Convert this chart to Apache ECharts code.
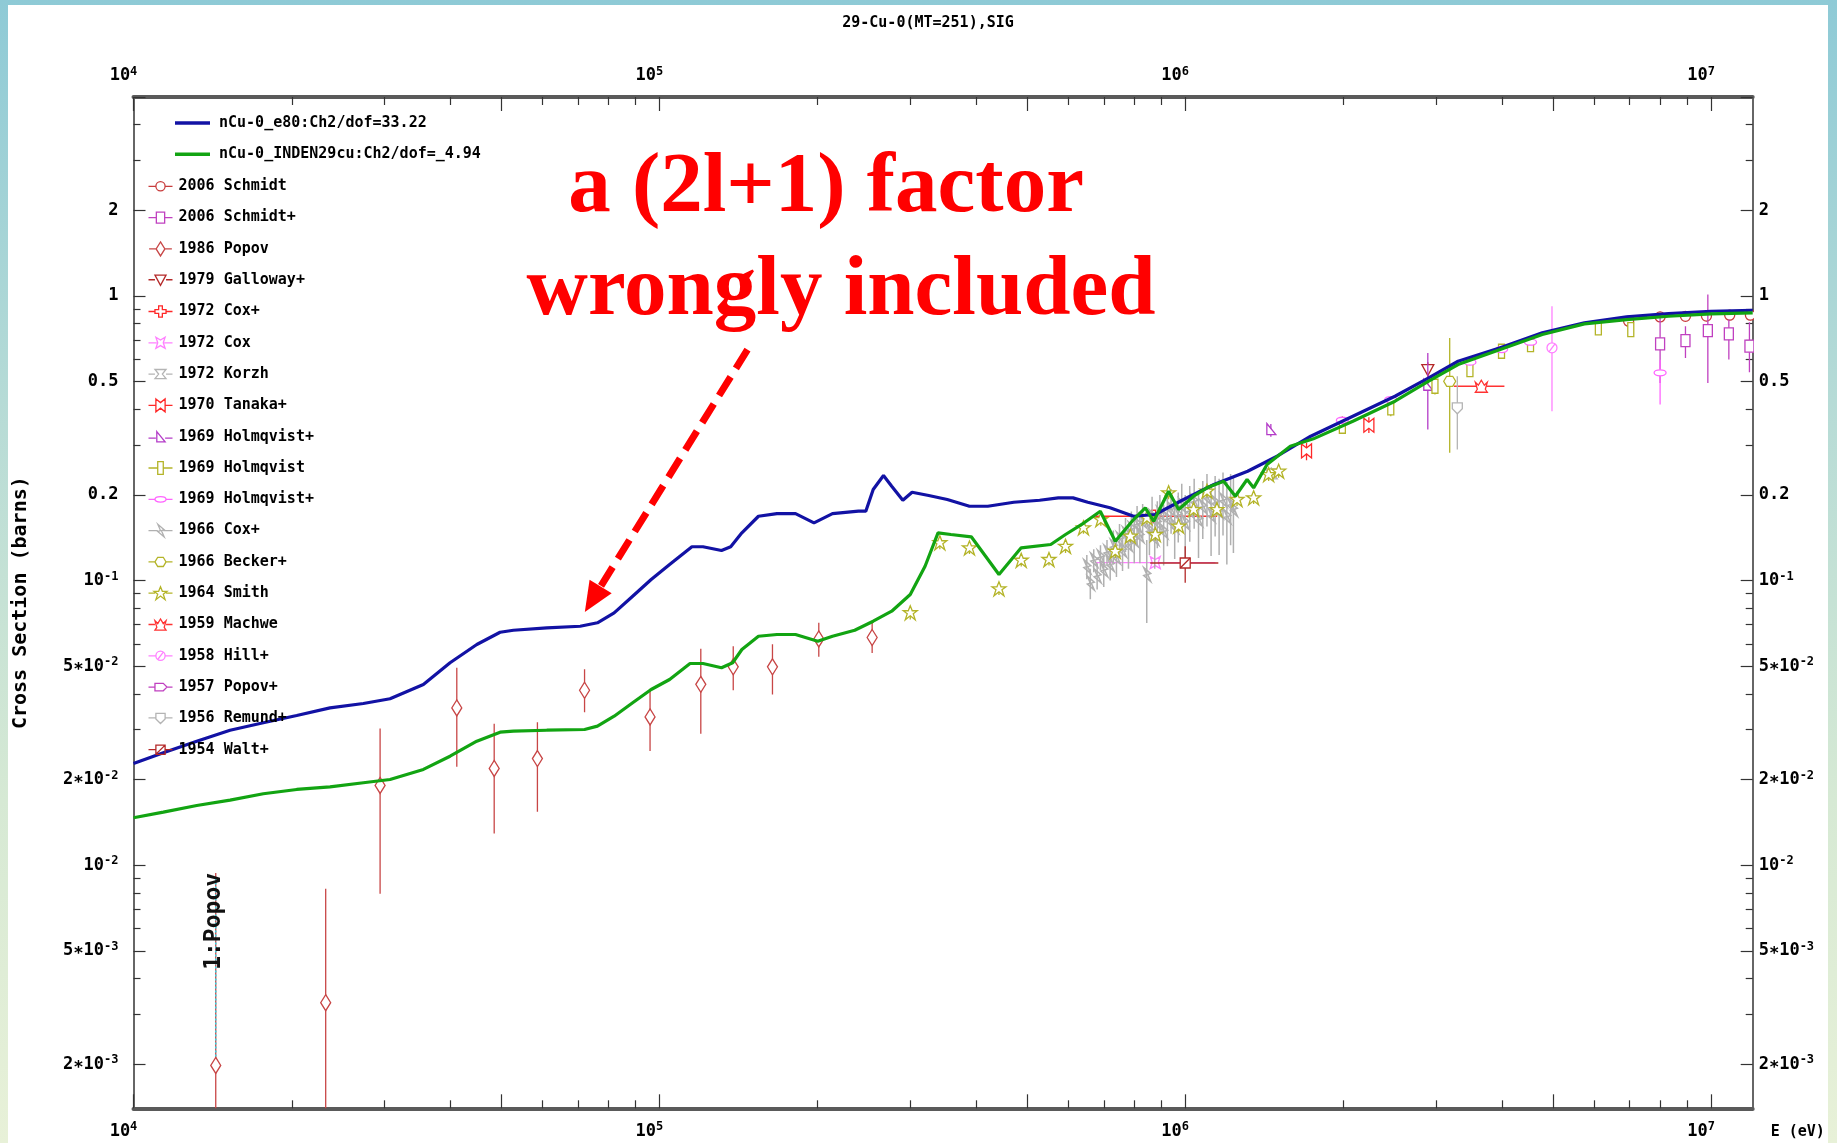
<!DOCTYPE html>
<html>
<head>
<meta charset="utf-8">
<script src="https://cdn.jsdelivr.net/npm/echarts@6/dist/echarts.min.js"></script>
<style>
html,body{margin:0;padding:0;}
#frame{position:absolute;left:0;top:0;width:1837px;height:1143px;background:linear-gradient(#8ecad6 0%,#b6dbd6 35%,#d6e9d4 70%,#e8f1d8 100%);}
#inner{position:absolute;left:8px;top:5px;width:1820px;height:1138px;background:#fff;}
#c{position:absolute;left:0;top:0;width:1837px;height:1143px;}
</style>
</head>
<body>
<div id="frame"></div><div id="inner"></div><div id="c"></div>
<script>
// ---------------- data ----------------
const titleText = '29-Cu-0(MT=251),SIG';
const xName = 'E (eV)';
const yName = 'Cross Section (barns)';

const xLabelValues = [1e4, 1e5, 1e6, 1e7];
const xTickLabels = ['10^4', '10^5', '10^6', '10^7'];
const xMajorTicks = [1e4, 5e4, 1e5, 5e5, 1e6, 5e6, 1e7];
const xMinorTicks = [2e4,3e4,4e4,6e4,7e4,8e4,9e4,2e5,3e5,4e5,6e5,7e5,8e5,9e5,2e6,3e6,4e6,6e6,7e6,8e6,9e6];

const yLabelValues = [2, 1, 0.5, 0.2, 0.1, 0.05, 0.02, 0.01, 0.005, 0.002];
const yTickLabels = ['2', '1', '0.5', '0.2', '10^-1', '5\u221710^-2', '2\u221710^-2', '10^-2', '5\u221710^-3', '2\u221710^-3'];
const yMajorTicks = [5, 2, 1, 0.5, 0.2, 0.1, 0.05, 0.02, 0.01, 0.005, 0.002];
const yMinorTicks = [4,3,0.9,0.8,0.7,0.6,0.4,0.3,0.09,0.08,0.07,0.06,0.04,0.03,0.009,0.008,0.007,0.006,0.004,0.003];

const curveNames = ['nCu-0_e80:Ch2/dof=33.22', 'nCu-0_INDEN29cu:Ch2/dof=_4.94'];

const e80Energy = [1e4,11395,13192,15262,17655,20437,23643,27359,30749,35582,39994,44962,49792,52784,61094,70700,76250,82040,88970,96480,104590,115330,121050,131280,136680,143530,154330,167340,181520,196820,213430,239100,246950,255070,266840,276600,290400,302400,325300,352800,388800,421300,472100,528700,573600,611800,652800,719400,797700,876200,993200,1.134e6,1.3144e6,1.4953e6,1.7326e6,2.0836e6,2.5059e6,2.904e6,3.303e6,3.972e6,4.776e6,5.743e6,6.907e6,8.305e6,9.99e6,1.2e7];
const e80Sigma = [0.02278,0.02484,0.02728,0.02981,0.03166,0.03358,0.03573,0.0370,0.03844,0.04315,0.05144,0.05963,0.06587,0.06694,0.06825,0.06914,0.07109,0.07703,0.08815,0.1009,0.1139,0.1315,0.1315,0.1276,0.1315,0.1472,0.1683,0.1720,0.1720,0.1596,0.1720,0.1753,0.1753,0.2089,0.2339,0.2146,0.1916,0.2044,0.1990,0.1927,0.1825,0.1825,0.1885,0.1916,0.1953,0.1953,0.1885,0.1802,0.1683,0.1707,0.1927,0.2176,0.2423,0.2735,0.3216,0.3780,0.4443,0.5158,0.5896,0.6572,0.7420,0.8043,0.8444,0.8673,0.8836,0.8907];

const indenEnergy = [1e4,11395,13192,15262,17655,20437,23643,27359,30749,35582,39994,44962,49792,52784,61094,72070,76250,82040,88970,96480,104590,114380,121050,131280,137850,143530,154330,167340,181520,200100,213430,235240,255070,276600,300000,320100,338800,358500,391900,442400,487600,555000,592100,642300,689500,736200,797700,839600,870900,929900,971600,1.0375e6,1.1002e6,1.1832e6,1.2455e6,1.3111e6,1.3494e6,1.4309e6,1.5845e6,1.7526e6,2.0836e6,2.5059e6,2.904e6,3.303e6,3.972e6,4.776e6,5.743e6,6.907e6,8.305e6,9.99e6,1.2e7];
const indenSigma = [0.01468,0.01537,0.01622,0.01693,0.01783,0.01846,0.01886,0.01949,0.02001,0.02171,0.02416,0.02728,0.02934,0.02958,0.02981,0.02999,0.03081,0.03339,0.03722,0.04144,0.04494,0.05114,0.05114,0.04940,0.05144,0.05728,0.06376,0.06465,0.06465,0.06124,0.06376,0.06694,0.07201,0.07807,0.08937,0.1123,0.1472,0.1452,0.1425,0.1051,0.1304,0.1339,0.1452,0.1596,0.1753,0.1375,0.1639,0.1802,0.1616,0.2061,0.1777,0.1979,0.2118,0.2234,0.1979,0.2265,0.2118,0.2557,0.2966,0.3148,0.3630,0.4267,0.5017,0.5741,0.6480,0.7318,0.7980,0.8261,0.8485,0.8651,0.8722];

// rows: [E, sigma, sigmaLow, sigmaHigh, Elow, Ehigh]  (0 = none)
const schmidt2006 = [[6.97e6,0.815,0.785,0.845,0,0],[8.0e6,0.844,0.81,0.88,0,0],[8.94e6,0.848,0.815,0.88,0,0],[9.8e6,0.85,0.815,0.885,0,0],[1.085e7,0.856,0.82,0.89,0,0],[1.188e7,0.856,0.82,0.89,0,0]];
const schmidtPlus2006 = [[8.0e6,0.679,0.495,0.872,0,0],[8.94e6,0.697,0.606,0.783,0,0],[9.86e6,0.756,0.495,1.011,0,0],[1.081e7,0.736,0.598,0.826,0,0],[1.183e7,0.666,0.539,0.808,0,0]];
const popov1986 = [[14335,0.00198,0.0008,0.0094,0,0],[23200,0.00329,0.0008,0.00827,0,0],[29440,0.01907,0.00794,0.0302,0,0],[41190,0.0357,0.0222,0.0494,0,0],[48520,0.02188,0.01294,0.0314,0,0],[58630,0.0237,0.01542,0.0318,0,0],[72070,0.0412,0.0345,0.0488,0,0],[96010,0.0332,0.0252,0.0417,0,0],[119900,0.0432,0.029,0.0576,0,0],[138200,0.0498,0.0412,0.0588,0,0],[164100,0.0498,0.0398,0.0597,0,0],[201000,0.0624,0.054,0.0711,0,0],[253900,0.0631,0.0557,0.0711,0,0]];
const galloway1979 = [[2.893e6,0.551,0.52,0.585,0,0]];
const coxPlus1972 = [[8.71e5,0.1683,0,0,6.745e5,1.15e6]];
const cox1972 = [[8.77e5,0.1157,0,0,6.745e5,1.141e6]];
const korzh1972 = [[1.458e6,0.237,0.225,0.25,0,0]];
const tanaka1970 = [[1.701e6,0.2855,0.265,0.305,0,0],[2.235e6,0.3514,0.33,0.375,0,0]];
const holmqvistPlusA1969 = [[1.455e6,0.3367,0.32,0.355,0,0],[2.893e6,0.4817,0.3395,0.631,0,0]];
const holmqvist1969 = [[1.99e6,0.3486,0.3304,0.378,0,0],[2.46e6,0.4046,0.378,0.4387,0,0],[2.985e6,0.4817,0.4508,0.5225,0,0],[3.479e6,0.551,0.5225,0.5969,0,0],[3.995e6,0.6395,0.61,0.67,0,0],[4.536e6,0.675,0.64,0.71,0,0],[6.105e6,0.773,0.74,0.81,0,0],[7.036e6,0.762,0.72,0.80,0,0]];
const holmqvistPlusB1969 = [[1.99e6,0.3659,0,0,0,0],[2.46e6,0.4326,0,0,0,0],[3.479e6,0.5854,0,0,0,0],[3.995e6,0.648,0,0,0,0],[4.536e6,0.688,0,0,0,0],[8.0e6,0.537,0.4155,0.5969,0,0]];
const coxPlus1966 = [[6.50e5,0.112,0.101,0.123,0,0],[6.60e5,0.098,0.086,0.110,0,0],[6.70e5,0.118,0.107,0.129,0,0],[6.80e5,0.104,0.093,0.115,0,0],[6.90e5,0.121,0.109,0.133,0,0],[7.00e5,0.109,0.095,0.123,0,0],[7.10e5,0.126,0.113,0.139,0,0],[7.20e5,0.114,0.100,0.128,0,0],[7.30e5,0.132,0.114,0.150,0,0],[7.40e5,0.121,0.103,0.139,0,0],[7.50e5,0.140,0.122,0.158,0,0],[7.60e5,0.128,0.108,0.148,0,0],[7.70e5,0.146,0.126,0.166,0,0],[7.80e5,0.134,0.110,0.158,0,0],[7.90e5,0.152,0.129,0.175,0,0],[8.00e5,0.139,0.115,0.163,0,0],[8.10e5,0.158,0.133,0.183,0,0],[8.20e5,0.144,0.115,0.173,0,0],[8.30e5,0.162,0.138,0.186,0,0],[8.45e5,0.105,0.071,0.139,0,0],[8.55e5,0.150,0.123,0.177,0,0],[8.65e5,0.168,0.139,0.197,0,0],[8.75e5,0.141,0.110,0.172,0,0],[8.85e5,0.160,0.130,0.190,0,0],[8.95e5,0.172,0.144,0.200,0,0],[9.10e5,0.149,0.113,0.185,0,0],[9.25e5,0.165,0.132,0.198,0,0],[9.40e5,0.178,0.146,0.210,0,0],[9.55e5,0.155,0.119,0.191,0,0],[9.70e5,0.170,0.136,0.204,0,0],[9.85e5,0.184,0.149,0.219,0,0],[1.00e6,0.160,0.120,0.200,0,0],[1.02e6,0.176,0.137,0.215,0,0],[1.04e6,0.190,0.152,0.228,0,0],[1.06e6,0.164,0.120,0.208,0,0],[1.08e6,0.182,0.140,0.224,0,0],[1.10e6,0.196,0.155,0.237,0,0],[1.12e6,0.170,0.122,0.218,0,0],[1.14e6,0.188,0.143,0.233,0,0],[1.16e6,0.175,0.123,0.228,0,0],[1.18e6,0.192,0.144,0.240,0,0],[1.20e6,0.168,0.114,0.222,0,0],[1.22e6,0.185,0.133,0.237,0,0],[1.235e6,0.178,0.125,0.231,0,0]];
const becker1966 = [[3.184e6,0.5015,0.2813,0.712,0,0]];
const smith1964 = [[3.0e5,0.0771,0.073,0.081,0,0],[3.415e5,0.1358,0.129,0.143,0,0],[3.888e5,0.1303,0.124,0.137,0,0],[4.424e5,0.0936,0.089,0.098,0,0],[4.877e5,0.1179,0.112,0.124,0,0],[5.507e5,0.1186,0.113,0.125,0,0],[5.921e5,0.132,0.125,0.139,0,0],[6.405e5,0.1533,0.146,0.161,0,0],[6.911e5,0.1639,0.156,0.172,0,0],[7.362e5,0.1268,0.12,0.133,0,0],[7.863e5,0.1432,0.136,0.15,0,0],[8.459e5,0.1662,0.158,0.175,0,0],[8.774e5,0.1452,0.138,0.152,0,0],[9.299e5,0.2034,0.193,0.214,0,0],[9.716e5,0.1553,0.148,0.163,0,0],[1.0375e6,0.1777,0.169,0.187,0,0],[1.1002e6,0.2061,0.196,0.216,0,0],[1.149e6,0.1777,0.169,0.187,0,0],[1.2547e6,0.1927,0.183,0.202,0,0],[1.3494e6,0.1953,0.186,0.205,0,0],[1.441e6,0.2358,0.224,0.248,0,0],[1.5055e6,0.2423,0.23,0.254,0,0]];
const machwe1959 = [[3.657e6,0.4817,0.46,0.505,3.243e6,4.046e6]];
const hill1958 = [[4.983e6,0.6573,0.3936,0.92,0,0]];
const popovPlus1957 = [];
const remund1956 = [[3.292e6,0.4046,0.2888,0.5225,0,0]];
const walt1954 = [[1.0e6,0.1153,0.0982,0.132,8.58e5,1.156e6]];

const pointLabel = [[14335, 0.00198, 0.0094]];
const pointLabelText = '1:Popov';
const noteLines = ['a (2l+1) factor', 'wrongly included'];
const arrowFrom = [147100, 0.648];
const arrowTo = [74700, 0.0860];

// ---------------- styles ----------------
const MONO = "'DejaVu Sans Mono','Liberation Mono',monospace";
const CURVE_COLORS = ['#1212a4', '#12a412'];
const MARKERS = {
  circle: {hw:5, parts:[{circle:5}]},
  square: {hw:4.5, parts:[{pts:[[-4.5,-6],[4.5,-6],[4.5,6],[-4.5,6]], closed:true}]},
  diamond: {hw:5, parts:[{pts:[[0,-8],[5,0],[0,8],[-5,0]], closed:true}]},
  triDown: {hw:6, parts:[{pts:[[-6,-5],[6,-5],[0,6]], closed:true}]},
  plus: {hw:6, parts:[{pts:[[-2,-6],[2,-6],[2,-2],[6,-2],[6,2],[2,2],[2,6],[-2,6],[-2,2],[-6,2],[-6,-2],[-2,-2]], closed:true}]},
  star4: {hw:4, parts:[{pts:[[-5,-6],[0,-3],[5,-6],[3,0],[5,6],[0,3],[-5,6],[-3,0]], closed:true}]},
  hourglass: {hw:6, parts:[{pts:[[-6,-5],[6,-5],[2,0],[6,5],[-6,5],[-2,0]], closed:true}]},
  bowtie: {hw:5, parts:[{pts:[[-5,-7],[0,-3],[5,-7],[5,7],[0,3],[-5,7]], closed:true}]},
  triRight: {hw:5, parts:[{pts:[[-4,-7],[5,4],[-4,4]], closed:true}]},
  tallRect: {hw:3, parts:[{pts:[[-3,-7],[3,-7],[3,7],[-3,7]], closed:true}]},
  ellipse: {hw:6, parts:[{ellipse:[6,3]}]},
  bolt: {hw:3, parts:[{pts:[[-3,-7],[4,-1],[1,0],[4,7],[-3,1],[0,0]], closed:true}]},
  hexagon: {hw:6, parts:[{pts:[[-6,0],[-3,-5],[3,-5],[6,0],[3,5],[-3,5]], closed:true}]},
  star5: {hw:6, parts:[{pts:[[0,-7],[2,-2],[7,-2],[3,1],[5,7],[0,3],[-5,7],[-3,1],[-7,-2],[-2,-2]], closed:true}]},
  crown: {hw:6, parts:[{pts:[[-6,-4],[-3,-1],[0,-6],[3,-1],[6,-4],[4,3],[6,6],[-6,6],[-4,3]], closed:true}]},
  circleSlash: {hw:5, parts:[{circle:5},{pts:[[-3,4],[3,-4]], closed:false}]},
  house: {hw:6, parts:[{pts:[[-6,-4],[3,-4],[7,0],[3,4],[-6,4]], closed:true}]},
  pentagon: {hw:5, parts:[{pts:[[-5,-5],[5,-5],[5,1],[0,6],[-5,1]], closed:true}]},
  squareSlash: {hw:5, parts:[{pts:[[-5,-5],[5,-5],[5,5],[-5,5]], closed:true},{pts:[[-5,5],[5,-5]], closed:false}]}
};

const expSets = [
  {name:'2006 Schmidt', data:schmidt2006, color:'#c83c3c', marker:'circle'},
  {name:'2006 Schmidt+', data:schmidtPlus2006, color:'#c040c0', marker:'square'},
  {name:'1986 Popov', data:popov1986, color:'#c84646', marker:'diamond'},
  {name:'1979 Galloway+', data:galloway1979, color:'#b42828', marker:'triDown'},
  {name:'1972 Cox+', data:coxPlus1972, color:'#ff2828', marker:'plus'},
  {name:'1972 Cox', data:cox1972, color:'#ff80ff', marker:'star4'},
  {name:'1972 Korzh', data:korzh1972, color:'#b4b4b4', marker:'hourglass'},
  {name:'1970 Tanaka+', data:tanaka1970, color:'#ff2828', marker:'bowtie'},
  {name:'1969 Holmqvist+', data:holmqvistPlusA1969, color:'#b43cc8', marker:'triRight'},
  {name:'1969 Holmqvist', data:holmqvist1969, color:'#b4b428', marker:'tallRect'},
  {name:'1969 Holmqvist+ ', data:holmqvistPlusB1969, color:'#ff64ff', marker:'ellipse'},
  {name:'1966 Cox+', data:coxPlus1966, color:'#b0b0b0', marker:'bolt', noFill:true, width:1.5},
  {name:'1966 Becker+', data:becker1966, color:'#b4b428', marker:'hexagon'},
  {name:'1964 Smith', data:smith1964, color:'#b4b428', marker:'star5'},
  {name:'1959 Machwe', data:machwe1959, color:'#ff3232', marker:'crown'},
  {name:'1958 Hill+', data:hill1958, color:'#ff80ff', marker:'circleSlash'},
  {name:'1957 Popov+', data:popovPlus1957, color:'#c040c0', marker:'house'},
  {name:'1956 Remund+', data:remund1956, color:'#b4b4b4', marker:'pentagon'},
  {name:'1954 Walt+', data:walt1954, color:'#b42828', marker:'squareSlash'}
];

function legendPath(mk) {
  const m = MARKERS[mk];
  let d = 'M-13 0L' + (-m.hw) + ' 0M' + m.hw + ' 0L13 0';
  m.parts.forEach(p => {
    if (p.circle) { const r = p.circle; d += 'M' + (-r) + ' 0A' + r + ' ' + r + ' 0 1 1 ' + r + ' 0A' + r + ' ' + r + ' 0 1 1 ' + (-r) + ' 0Z'; }
    else if (p.ellipse) { const a = p.ellipse[0], b = p.ellipse[1]; d += 'M' + (-a) + ' 0A' + a + ' ' + b + ' 0 1 1 ' + a + ' 0A' + a + ' ' + b + ' 0 1 1 ' + (-a) + ' 0Z'; }
    else { d += 'M' + p.pts.map(q => q[0] + ' ' + q[1]).join('L') + (p.closed ? 'Z' : ''); }
  });
  return 'path://' + d;
}

function expRender(color, mk, noFill, width) {
  const m = MARKERS[mk];
  const lw = width || 1.3;
  return function (params, api) {
    const E = api.value(0), s = api.value(1), lo = api.value(2), hi = api.value(3), el = api.value(4), eh = api.value(5);
    const p = api.coord([E, s]);
    const st = {stroke: color, lineWidth: lw, fill: 'none'};
    const fst = {stroke: color, lineWidth: lw, fill: noFill ? 'none' : '#fff'};
    const ch = [];
    if (lo > 0 && hi > 0) {
      const a = api.coord([E, hi]), b = api.coord([E, lo]);
      ch.push({type:'line', shape:{x1:p[0], y1:a[1], x2:p[0], y2:b[1]}, style:st});
    }
    if (el > 0 && eh > 0) {
      const a = api.coord([el, s]), b = api.coord([eh, s]);
      ch.push({type:'line', shape:{x1:a[0], y1:p[1], x2:b[0], y2:p[1]}, style:st});
    }
    m.parts.forEach(q => {
      if (q.circle) ch.push({type:'circle', shape:{cx:p[0], cy:p[1], r:q.circle}, style:fst});
      else if (q.ellipse) ch.push({type:'ellipse', shape:{cx:p[0], cy:p[1], rx:q.ellipse[0], ry:q.ellipse[1]}, style:fst});
      else ch.push({type: q.closed ? 'polygon' : 'polyline', shape:{points: q.pts.map(r => [p[0] + r[0], p[1] + r[1]])}, style: q.closed ? fst : st});
    });
    return {type:'group', children:ch};
  };
}

function richLabel(str) {
  const i = str.indexOf('^');
  if (i < 0) return '{b|' + str + '}';
  return '{b|' + str.slice(0, i) + '}{s|' + str.slice(i + 1) + '}';
}
const LOG = Math.log10;
const X_MIN = 1e4, X_MAX = 1.2e7, Y_MIN = 0.0014, Y_MAX = 5;
const RICH = {
  b: {fontFamily: MONO, fontSize: 17, fontWeight: 'bold', color: '#000', lineHeight: 20},
  s: {fontFamily: MONO, fontSize: 12, fontWeight: 'bold', color: '#000', verticalAlign: 'top'}
};
function fmt(vals, texts) {
  return function (v) {
    const k = vals.findIndex(L => Math.abs(LOG(L) - v) < 1e-6);
    return k >= 0 ? richLabel(texts[k]) : '';
  };
}

function xDeco(position, major, withName) {
  const ax = {
    type:'value', gridIndex:0, position: position, min: LOG(X_MIN), max: LOG(X_MAX),
    splitLine:{show:false},
    axisLine:{show: major, onZero:false, lineStyle:{color:'#5a5a5a', width:4}},
    axisTick:{show:true, inside:true, length: major ? 14 : 8, customValues: (major ? xMajorTicks : xMinorTicks).map(LOG), lineStyle:{color:'#333', width:1.2}},
    axisLabel: major ? {show:true, customValues: xLabelValues.map(LOG), formatter: fmt(xLabelValues, xTickLabels), rich: RICH, margin: position === 'bottom' ? 13 : 11, padding:[0,20,0,0]} : {show:false}
  };
  if (withName) {
    ax.name = xName; ax.nameLocation = 'end'; ax.nameGap = 18;
    ax.nameTextStyle = {fontFamily: MONO, fontSize: 15, fontWeight:'bold', color:'#000', align:'left', verticalAlign:'top', padding:[16,0,0,0]};
  }
  return ax;
}
function yDeco(position, major, withName) {
  const ax = {
    type:'value', gridIndex:0, position: position, min: LOG(Y_MIN), max: LOG(Y_MAX),
    splitLine:{show:false},
    axisLine:{show: major, onZero:false, lineStyle:{color:'#333', width:1.5}},
    axisTick:{show:true, inside:true, length: major ? 12 : 7, customValues: (major ? yMajorTicks : yMinorTicks).map(LOG), lineStyle:{color:'#333', width:1.2}},
    axisLabel: major ? {show:true, customValues: yLabelValues.map(LOG), formatter: fmt(yLabelValues, yTickLabels), rich: RICH, margin: position === 'left' ? 15 : 6} : {show:false}
  };
  if (withName) {
    ax.name = yName; ax.nameLocation = 'middle'; ax.nameGap = 103;
    ax.nameTextStyle = {fontFamily: MONO, fontSize: 20, fontWeight:'bold', color:'#000'};
  }
  return ax;
}

const series = [];
series.push({
  type:'line', name: curveNames[0], xAxisIndex:0, yAxisIndex:0, symbol:'none', showSymbol:false,
  data: e80Energy.map((e, i) => [e, e80Sigma[i]]),
  lineStyle:{color:CURVE_COLORS[0], width:3.2}, itemStyle:{color:CURVE_COLORS[0]}, animation:false
});
series.push({
  type:'line', name: curveNames[1], xAxisIndex:0, yAxisIndex:0, symbol:'none', showSymbol:false,
  data: indenEnergy.map((e, i) => [e, indenSigma[i]]),
  lineStyle:{color:CURVE_COLORS[1], width:3.2}, itemStyle:{color:CURVE_COLORS[1]}, animation:false
});
expSets.forEach(s => {
  series.push({
    type:'custom', name:s.name, coordinateSystem:'cartesian2d', xAxisIndex:0, yAxisIndex:0, clip:true,
    data:s.data, encode:{x:0, y:1}, itemStyle:{color:s.color},
    renderItem: expRender(s.color, s.marker, s.noFill, s.width), animation:false
  });
});
// label of set 1 and the annotation arrow
series.push({
  type:'custom', name:'annotation', coordinateSystem:'cartesian2d', xAxisIndex:0, yAxisIndex:0, silent:true,
  data: pointLabel, encode:{x:0, y:1}, animation:false,
  renderItem: function (params, api) {
    const E = api.value(0), s = api.value(1), top = api.value(2);
    const p = api.coord([E, s]), t = api.coord([E, top]);
    return {type:'group', children:[
      {type:'line', shape:{x1:p[0], y1:p[1] - 9, x2:p[0], y2:t[1] + 6}, style:{stroke:'#30d8e8', lineWidth:1.5, lineDash:[2,2]}},
      {type:'text', x:p[0] - 2, y:t[1], rotation: Math.PI / 2,
       style:{text: pointLabelText, font:"bold 23px " + MONO, fill:'#111', align:'right', verticalAlign:'middle', textAlign:'right', textVerticalAlign:'middle'}}
    ]};
  },
  markLine:{
    silent:true, animation:false, symbol:['none','triangle'], symbolSize:[26,30],
    label:{show:false},
    lineStyle:{color:'#ff0000', width:7, type:[22,10], cap:'butt'},
    data:[[{coord: arrowFrom}, {coord: arrowTo}]]
  }
});

const option = {
  animation:false,
  backgroundColor:'transparent',
  title:{text:titleText, left:923, top:11, textAlign:'center', textStyle:{fontFamily:MONO, fontSize:15, fontWeight:'bold', color:'#000'}},
  grid:{left:133.5, right:84.3, top:97, bottom:34.7, outerBoundsMode:'none'},
  legend:[
    {data: curveNames.map((n, i) => ({name:n, icon:'rect', itemStyle:{color:CURVE_COLORS[i]}})),
     orient:'vertical', left:175, top:113, itemWidth:35, itemHeight:3.5, itemGap:11.3, padding:0, selectedMode:false,
     textStyle:{fontFamily:MONO, fontSize:15, fontWeight:'bold', color:'#000', lineHeight:20, padding:[0,0,0,4]}},
    {data: expSets.map(s => ({name:s.name, icon: legendPath(s.marker), itemStyle:{color:'none', borderColor:s.color, borderWidth:1.3}})),
     orient:'vertical', left:146, top:176.3, itemWidth:24, itemHeight:14, itemGap:11.3, padding:0, selectedMode:false,
     textStyle:{fontFamily:MONO, fontSize:15, fontWeight:'bold', color:'#000', lineHeight:20, padding:[0,0,0,1]}}
  ],
  xAxis:[
    {type:'log', logBase:10, gridIndex:0, min:X_MIN, max:X_MAX, show:false, axisLine:{onZero:false}, splitLine:{show:false}},
    xDeco('bottom', true, true),
    xDeco('bottom', false, false),
    xDeco('top', true, false),
    xDeco('top', false, false)
  ],
  yAxis:[
    {type:'log', logBase:10, gridIndex:0, min:Y_MIN, max:Y_MAX, show:false, axisLine:{onZero:false}, splitLine:{show:false}},
    yDeco('left', true, true),
    yDeco('left', false, false),
    yDeco('right', true, false),
    yDeco('right', false, false)
  ],
  graphic:[
    {type:'text', x:826, y:189, z:100, silent:true,
     style:{text: noteLines[0], font:"bold 85px 'Liberation Serif','Times New Roman',serif", fill:'#ff0000', align:'center', verticalAlign:'middle', textAlign:'center', textVerticalAlign:'middle'}},
    {type:'text', x:841, y:292, z:100, silent:true,
     style:{text: noteLines[1], font:"bold 85px 'Liberation Serif','Times New Roman',serif", fill:'#ff0000', align:'center', verticalAlign:'middle', textAlign:'center', textVerticalAlign:'middle'}}
  ],
  series: series
};

const chart = echarts.init(document.getElementById('c'), null, {renderer:'canvas'});
chart.setOption(option);
</script>
</body>
</html>
